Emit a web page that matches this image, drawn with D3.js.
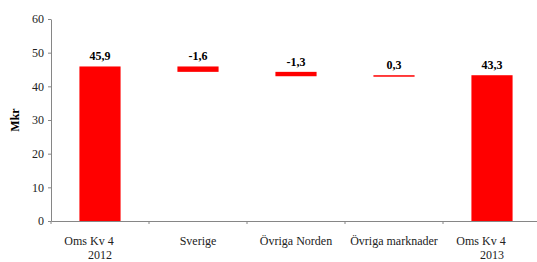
<!DOCTYPE html>
<html>
<head>
<meta charset="utf-8">
<script src="https://cdn.jsdelivr.net/npm/d3@7"></script>
<style>
  body { margin: 0; background: #fff; }
  svg text { font-family: "Liberation Serif", "DejaVu Serif", serif !important; }
</style>
</head>
<body>
<script>
var categories = ["Oms Kv 4|2012", "Sverige", "Övriga Norden", "Övriga marknader", "Oms Kv 4|2013"];
var changes = [45.9, -1.6, -1.3, 0.3, 43.3];
var valueLabels = ["45,9", "-1,6", "-1,3", "0,3", "43,3"];
var isTotal = [true, false, false, false, true];
var yTicks = [0, 10, 20, 30, 40, 50, 60];

var w = 537, h = 262;
var serif = "'Liberation Serif', 'DejaVu Serif', serif";

var svg = d3.select("body")
            .append("svg")
            .attr("width", w)
            .attr("height", h)
            .style("font-family", serif);

// waterfall start/end for each step
var bars = [];
var running = 0;
for (var i = 0; i < categories.length; i++) {
    var lo, hi;
    if (isTotal[i]) {
        lo = 0; hi = changes[i];
        running = changes[i];
    } else {
        var next = running + changes[i];
        lo = Math.min(running, next); hi = Math.max(running, next);
        running = next;
    }
    bars.push({cat: categories[i], lo: lo, hi: hi, label: valueLabels[i]});
}

var xScale = d3.scaleBand()
               .domain(categories)
               .range([51, 541])
               .paddingInner(0)
               .paddingOuter(0);

var yScale = d3.scaleLinear()
               .domain([0, 60])
               .range([221, 19]);

var barW = xScale.bandwidth() * 0.42;

svg.append("g")
    .selectAll("rect")
    .data(bars)
    .enter()
    .append("rect")
    .attr("x", d => xScale(d.cat) + (xScale.bandwidth() - barW) / 2)
    .attr("y", d => yScale(d.hi))
    .attr("width", barW)
    .attr("height", d => Math.max(1.5, yScale(d.lo) - yScale(d.hi)))
    .attr("fill", "#ff0000");

svg.append("g")
    .selectAll("text")
    .data(bars)
    .enter()
    .append("text")
    .attr("x", d => xScale(d.cat) + xScale.bandwidth() / 2)
    .attr("y", d => yScale(d.hi) - 6)
    .attr("text-anchor", "middle")
    .style("font-size", "12px")
    .style("font-weight", "bold")
    .attr("fill", "#000")
    .text(d => d.label);

// y axis
var yAxis = d3.axisLeft(yScale)
              .tickValues(yTicks)
              .tickSize(3)
              .tickSizeOuter(0)
              .tickPadding(4);

var yG = svg.append("g")
    .attr("transform", "translate(51,0)")
    .call(yAxis)
    .attr("font-family", null);
yG.select(".domain").attr("stroke", "#868686");
yG.selectAll(".tick line").attr("stroke", "#868686");
yG.selectAll(".tick text")
    .style("font-size", "12px")
    .attr("fill", "#222");

// x axis
var xAxis = d3.axisBottom(xScale)
              .tickSize(0)
              .tickSizeOuter(0)
              .tickFormat("");

var xG = svg.append("g")
    .attr("transform", "translate(0,221)")
    .call(xAxis)
    .attr("font-family", null);
xG.select(".domain").attr("stroke", "#868686");

xG.selectAll(".bound")
    .data(categories)
    .enter()
    .append("line")
    .attr("class", "bound")
    .attr("x1", d => xScale(d))
    .attr("x2", d => xScale(d))
    .attr("y1", 0)
    .attr("y2", 3)
    .attr("stroke", "#868686");

xG.selectAll(".cat")
    .data(categories)
    .enter()
    .append("text")
    .attr("class", "cat")
    .style("font-size", "12px")
    .attr("fill", "#222")
    .each(function(d) {
        var parts = d.split("|");
        var cx = xScale(d) + xScale.bandwidth() / 2;
        var t = d3.select(this);
        if (parts.length === 1) {
            t.append("tspan").attr("x", cx).attr("y", 24)
                .attr("text-anchor", "middle").text(parts[0]);
        } else {
            t.append("tspan").attr("x", cx - 11).attr("y", 24)
                .attr("text-anchor", "middle").text(parts[0]);
            t.append("tspan").attr("x", cx).attr("y", 38)
                .attr("text-anchor", "middle").text(parts[1]);
        }
    });

svg.append("text")
    .attr("transform", "translate(19,120) rotate(-90)")
    .attr("text-anchor", "middle")
    .style("font-size", "12px")
    .style("font-weight", "bold")
    .attr("fill", "#000")
    .text("Mkr");
</script>
</body>
</html>
